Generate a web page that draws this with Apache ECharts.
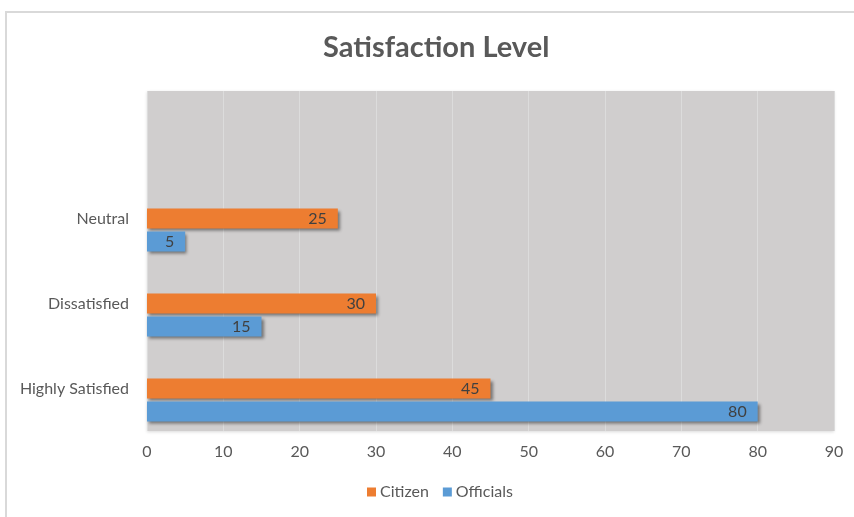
<!DOCTYPE html>
<html>
<head>
<meta charset="utf-8">
<script src="https://cdn.jsdelivr.net/npm/echarts@6/dist/echarts.min.js"></script>
<style>
  html, body { margin: 0; padding: 0; background: #ffffff; }
  #chart { width: 854px; height: 517px; }
</style>
</head>
<body>
<div id="chart"></div>
<script>
// Response categories, bottom to top; the top slot is left empty
const categories = ['Highly Satisfied', 'Dissatisfied', 'Neutral', ''];
const citizen = [45, 30, 25, null];
const officials = [80, 15, 5, null];
const xTicks = { min: 0, max: 90, interval: 10 };

const FONT = 'Lato, "Open Sans", "DejaVu Sans", sans-serif';
const TEXT = '#595959';
const barShadow = {
  shadowColor: 'rgba(0,0,0,0.45)',
  shadowBlur: 3,
  shadowOffsetX: 2,
  shadowOffsetY: 2
};
const barLabel = {
  show: true,
  position: 'insideRight',
  distance: 11,
  color: '#404040',
  fontSize: 16,
  fontFamily: FONT
};

const chart = echarts.init(document.getElementById('chart'), null, { renderer: 'canvas' });

chart.setOption({
  animation: false,
  backgroundColor: '#ffffff',
  textStyle: { fontFamily: FONT },
  title: {
    text: 'Satisfaction Level',
    left: 318,
    top: 28,
    textStyle: { fontFamily: FONT, fontSize: 29, fontWeight: 'bold', color: TEXT }
  },
  legend: {
    data: ['Citizen', 'Officials'],
    bottom: 12,
    left: 362,
    icon: 'rect',
    itemWidth: 9,
    itemHeight: 9,
    itemGap: 14,
    textStyle: { fontFamily: FONT, fontSize: 16, color: TEXT, padding: [0, 0, 0, -1] }
  },
  grid: {
    left: 147,
    right: 20,
    top: 91,
    bottom: 86,
    show: true,
    backgroundColor: '#d0cece',
    borderWidth: 0,
    shadowColor: 'rgba(0,0,0,0.15)',
    shadowBlur: 3,
    shadowOffsetY: 1
  },
  xAxis: {
    type: 'value',
    min: xTicks.min,
    max: xTicks.max,
    interval: xTicks.interval,
    axisLine: { show: false },
    axisTick: { show: false },
    axisLabel: { color: TEXT, fontSize: 16, fontFamily: FONT, margin: 13 },
    splitLine: { show: true, lineStyle: { color: '#dcdcdc', width: 1 } }
  },
  yAxis: {
    type: 'category',
    data: categories,
    axisLine: { show: false },
    axisTick: { show: false },
    axisLabel: { color: TEXT, fontSize: 16, fontFamily: FONT, margin: 18 },
    splitLine: { show: false }
  },
  series: [
    {
      // empty third series that holds the top slot of each group
      name: 'spacer',
      type: 'bar',
      barWidth: 20,
      barGap: '15%',
      data: categories.map(() => null),
      silent: true
    },
    {
      name: 'Citizen',
      type: 'bar',
      barWidth: 20,
      barGap: '15%',
      data: citizen,
      itemStyle: Object.assign({ color: '#ed7d31' }, barShadow),
      label: barLabel
    },
    {
      name: 'Officials',
      type: 'bar',
      barWidth: 20,
      barGap: '15%',
      data: officials,
      itemStyle: Object.assign({ color: '#5b9bd5' }, barShadow),
      label: barLabel
    }
  ],
  graphic: [
    {
      type: 'polyline',
      shape: { points: [[6, 517], [6, 12], [854, 12]] },
      style: { stroke: '#d9d9d9', lineWidth: 2, fill: null },
      silent: true
    }
  ]
});
</script>
</body>
</html>
